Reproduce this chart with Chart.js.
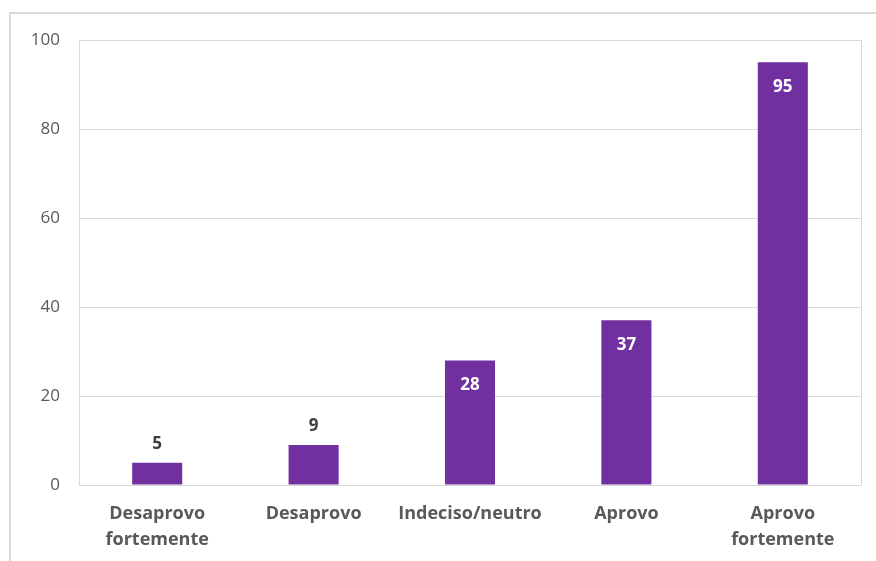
<!DOCTYPE html>
<html>
<head>
<meta charset="utf-8">
<script src="https://cdn.jsdelivr.net/npm/chart.js@4"></script>
<style>
  html, body { margin: 0; padding: 0; background: #fff; }
  #wrap { width: 876px; height: 561px; }
</style>
</head>
<body>
<div id="wrap"><canvas id="myChart" width="876" height="561"></canvas></div>
<script>
// Survey responses
const categories = [['Desaprovo', 'fortemente'], 'Desaprovo', 'Indeciso/neutro', 'Aprovo', ['Aprovo', 'fortemente']];
const responses = [5, 9, 28, 37, 95];
const yTicks = [0, 20, 40, 60, 80, 100];

const FONT = "'Open Sans', 'Noto Sans', sans-serif";
const BAR_COLOR = '#7030A0';
const GRID_COLOR = '#d9d9d9';

// Outer frame + plot box
const framePlugin = {
    id: 'frame',
    beforeDraw(chart) {
        const c = chart.ctx;
        const a = chart.chartArea;
        c.save();
        c.strokeStyle = '#d9d9d9';
        c.lineWidth = 2;
        c.strokeRect(10, 13, 900, 600);
        c.lineWidth = 1;
        c.strokeStyle = GRID_COLOR;
        c.strokeRect(Math.round(a.left) + 0.5, Math.round(a.top) + 0.5, Math.round(a.right - a.left), Math.round(a.bottom - a.top));
        c.restore();
    }
};

// Value labels: above short bars, inside the top of tall bars
const valueLabels = {
    id: 'valueLabels',
    afterDatasetsDraw(chart) {
        const c = chart.ctx;
        const meta = chart.getDatasetMeta(0);
        c.save();
        c.font = 'bold 17px ' + FONT;
        c.textAlign = 'center';
        c.textBaseline = 'middle';
        meta.data.forEach((bar, i) => {
            const v = responses[i];
            if (v < 20) {
                c.fillStyle = '#404040';
                c.fillText(v, bar.x, bar.y - 19);
            } else {
                c.fillStyle = '#ffffff';
                c.fillText(v, bar.x, bar.y + 25);
            }
        });
        c.restore();
    }
};

const ctx = document.getElementById('myChart').getContext('2d');
const myChart = new Chart(ctx, {
    type: 'bar',
    data: {
        labels: categories,
        datasets: [{
            data: responses,
            backgroundColor: BAR_COLOR,
            borderWidth: 0,
            categoryPercentage: 1,
            barPercentage: 0.32
        }]
    },
    options: {
        responsive: false,
        animation: false,
        layout: { padding: { left: 0, top: 40, right: 15, bottom: 0 } },
        plugins: {
            legend: { display: false },
            tooltip: { enabled: false }
        },
        scales: {
            x: {
                grid: { display: false, drawTicks: false },
                border: { display: false },
                ticks: {
                    color: '#595959',
                    font: { family: FONT, size: 18, weight: 'bold', lineHeight: 1.45 },
                    padding: 16,
                    maxRotation: 0,
                    autoSkip: false
                },
                afterFit(scale) { scale.height = 76; }
            },
            y: {
                min: 0,
                max: 100,
                afterBuildTicks(scale) { scale.ticks = yTicks.map(v => ({ value: v })); },
                grid: { color: GRID_COLOR, drawTicks: false },
                border: { display: false },
                ticks: {
                    color: '#595959',
                    font: { family: FONT, size: 17 },
                    padding: 19
                },
                afterFit(scale) { scale.width = 79; }
            }
        }
    },
    plugins: [framePlugin, valueLabels]
});
</script>
</body>
</html>
